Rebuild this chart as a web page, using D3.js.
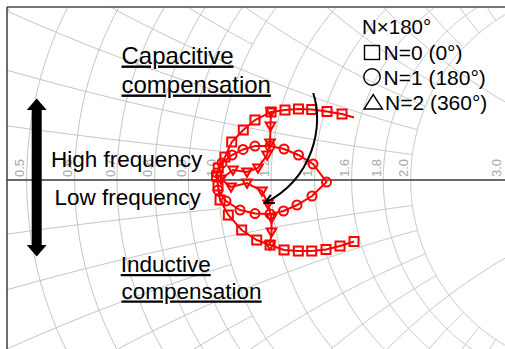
<!DOCTYPE html>
<html><head><meta charset="utf-8">
<script src="https://cdn.jsdelivr.net/npm/d3@7"></script>
<style>
html,body{margin:0;padding:0;background:#fff;}
svg{display:block;font-family:"Liberation Sans",Arial,sans-serif;}
</style>
</head><body>
<svg id="chart" width="505" height="349"></svg>
<script>
// ---------------- data (reflection coefficient, real / imaginary) ----------------
const seriesNames = ["N=0 (0°)", "N=1 (180°)", "N=2 (360°)"];
const legendTitle = "N×180°";

const n0Re = [0.2349,0.2106,0.1863,0.1615,0.1382,0.1134,0.0891,0.0660,0.0399,0.0167,0.0023,-0.0012,-0.0038,-0.0007,0.0109,0.0226,0.0427,0.0630,0.0908,0.1151,0.1385,0.1615,0.1880,0.2141,0.2349];
const n0Im = [-0.1068,-0.1146,-0.1207,-0.1233,-0.1233,-0.1215,-0.1128,-0.1042,-0.0868,-0.0608,-0.0347,-0.0104,0.0069,0.0208,0.0399,0.0660,0.0868,0.1042,0.1181,0.1215,0.1233,0.1224,0.1189,0.1146,0.1085];

const n1Re = [-0.0012,0.0127,0.0370,0.0630,0.0891,0.1125,0.1359,0.1620,0.1872,0.1637,0.1385,0.1134,0.0891,0.0630,0.0422,0.0231,0.0057,-0.0030];
const n1Im = [-0.0174,-0.0365,-0.0521,-0.0582,-0.0590,-0.0538,-0.0434,-0.0278,-0.0035,0.0278,0.0434,0.0538,0.0590,0.0590,0.0530,0.0434,0.0295,0.0122];

const n2Re = [0.0891,0.0917,0.0917,0.0856,0.0752,0.0491,0.0214,0.0040,0.0248,0.0491,0.0682,0.0839,0.0891,0.0899,0.0908];
const n2Im = [-0.1128,-0.0903,-0.0660,-0.0417,-0.0191,-0.0052,-0.0122,0.0017,0.0174,0.0139,0.0208,0.0434,0.0642,0.0937,0.1181];

// real-axis (resistance) tick labels
const rTickLabels = [0.5,0.6,0.7,0.8,0.9,1.0,1.2,1.4,1.6,1.8,2.0,3.0];
// Smith grid values (resistance and reactance) and banded grid steps
const gridValues = [0.1,0.2,0.3,0.4,0.5,0.6,0.7,0.8,0.9,1.0,1.2,1.4,1.6,1.8,2.0,3,4,5,10,20,50];
const gridBandEdges = [0,1,2,5,10,20,50];
const gridBandSteps = [0.1,0.2,1,5,10,50];

// curved arrow annotation (in reflection-coefficient units)
const arrowCtrl = [[0.164,0.151],[0.183,0.095],[0.165,0.003],[0.080,-0.040]];

// ---------------- drawing ----------------
const W = 505, H = 349;
const cx = 218.7, cy = 180, R = 576;
const frameLeft = 7, frameTop = 7;
const svg = d3.select("#chart");

const gx = d3.scaleLinear().domain([-1,1]).range([cx-R, cx+R]);
const gy = d3.scaleLinear().domain([-1,1]).range([cy+R, cy-R]);

function z2g(r, x){
  const den = (r+1)*(r+1) + x*x;
  return [(r*r - 1 + x*x)/den, 2*x/den];
}

const defs = svg.append("defs");
defs.append("clipPath").attr("id","clip")
  .append("rect").attr("x",frameLeft).attr("y",frameTop).attr("width",W-frameLeft+20).attr("height",H-frameTop+20);
defs.append("marker").attr("id","ah").attr("viewBox","0 0 12 12")
  .attr("refX",10).attr("refY",6).attr("markerWidth",12).attr("markerHeight",12)
  .attr("markerUnits","userSpaceOnUse").attr("orient","auto")
  .append("path").attr("d","M1,1.5 L10,6 L1,10.5").attr("fill","none")
  .attr("stroke","#000").attr("stroke-width",2).attr("stroke-linejoin","miter");

const plot = svg.append("g").attr("clip-path","url(#clip)");

// grid
const line = d3.line().x(d=>gx(d[0])).y(d=>gy(d[1]));
function bandOf(v){
  for(let i=0;i<gridBandSteps.length;i++) if(v <= gridBandEdges[i+1]+1e-9) return i;
  return gridBandSteps.length-1;
}
function isMult(v,s){ const q=v/s; return Math.abs(q-Math.round(q))<1e-6; }
const gridPaths = [];
gridValues.forEach(v=>{
  const bv = bandOf(v);
  gridBandSteps.forEach((s,k)=>{
    const lv = Math.max(bv,k);
    if(!isMult(v, gridBandSteps[lv])) return;
    const lo = gridBandEdges[k], hi = gridBandEdges[k+1];
    const ts = d3.range(0,161).map(i=>lo+(hi-lo)*i/160);
    gridPaths.push(ts.map(t=>z2g(v,t)));
    gridPaths.push(ts.map(t=>z2g(v,-t)));
    gridPaths.push(ts.map(t=>z2g(t,v)));
    gridPaths.push(ts.map(t=>z2g(t,-v)));
  });
});
plot.append("g").selectAll("path").data(gridPaths).join("path")
  .attr("d",line).attr("fill","none").attr("stroke","#c3c3c3").attr("stroke-width",1);

// real axis
plot.append("line").attr("x1",frameLeft).attr("x2",W+10).attr("y1",gy(0)).attr("y2",gy(0))
  .attr("stroke","#3a3a3a").attr("stroke-width",1.6);

// tick labels along the real axis
plot.append("g").selectAll("text").data(rTickLabels).join("text")
  .attr("transform",d=>`translate(${Math.min(gx(z2g(d,0)[0])-2.5, W-4)},${gy(0)-3}) rotate(-90)`)
  .attr("font-size",13).attr("fill","#a8a8a8").text(d=>d.toFixed(1));

// frame
svg.append("line").attr("x1",frameLeft).attr("x2",W).attr("y1",frameTop).attr("y2",frameTop)
  .attr("stroke","#4a4a4a").attr("stroke-width",1.6);
svg.append("line").attr("x1",frameLeft).attr("x2",frameLeft).attr("y1",frameTop).attr("y2",H)
  .attr("stroke","#4a4a4a").attr("stroke-width",1.6);

// text annotations
function addText(str, x, y, size, underline){
  const t = svg.append("text").attr("x",x).attr("y",y).attr("font-size",size).attr("fill","#000").text(str);
  if(underline) t.attr("text-decoration","underline");
  return t;
}
addText("Capacitive",121.5,63.5,24,true);
addText("compensation",121.5,92.5,24,true);
addText("Inductive",120.7,272,22.5,true);
addText("compensation",121.5,298.5,22.5,true);
addText("High frequency",51,167,22.5,false);
addText("Low frequency",54.5,205,22.5,false);

// thick double arrow
const ax = 36.7;
svg.append("path")
  .attr("d",`M${ax},98.5 L${ax+10},110 L${ax+5},110 L${ax+5},245 L${ax+10},245 L${ax},256.5 L${ax-10},245 L${ax-5},245 L${ax-5},110 L${ax-10},110 Z`)
  .attr("fill","#000");

// series
const series = [
  {re:n0Re, im:n0Im, shape:"square", skipLast:true},
  {re:n1Re, im:n1Im, shape:"circle", skipLast:false},
  {re:n2Re, im:n2Im, shape:"triangle", skipLast:false}
];
const red = "#ff0000";
const sg = plot.append("g");
series.forEach(s=>{
  const pts = s.re.map((v,i)=>[v, s.im[i]]);
  sg.append("path").attr("d",line(pts)).attr("fill","none").attr("stroke",red).attr("stroke-width",2);
});
series.forEach(s=>{
  const pts = s.re.map((v,i)=>[v, s.im[i]]);
  const mk = s.skipLast ? pts.slice(0,-1) : pts;
  const g = sg.append("g");
  mk.forEach(p=>{
    const px = gx(p[0]), py = gy(p[1]);
    if(s.shape==="square"){
      g.append("rect").attr("x",px-4.5).attr("y",py-4.5).attr("width",9).attr("height",9)
        .attr("fill","none").attr("stroke",red).attr("stroke-width",2);
    } else if(s.shape==="circle"){
      g.append("circle").attr("cx",px).attr("cy",py).attr("r",4.5)
        .attr("fill","none").attr("stroke",red).attr("stroke-width",2);
    } else {
      g.append("path").attr("d",`M${px-4.8},${py-3.5} L${px+4.8},${py-3.5} L${px},${py+4.8} Z`)
        .attr("fill","none").attr("stroke",red).attr("stroke-width",2).attr("stroke-linejoin","miter");
    }
  });
});

// curved arrow
const ap = d3.path();
const c = arrowCtrl.map(p=>[gx(p[0]),gy(p[1])]);
ap.moveTo(c[0][0],c[0][1]);
ap.bezierCurveTo(c[1][0],c[1][1],c[2][0],c[2][1],c[3][0],c[3][1]);
svg.append("path").attr("d",ap.toString()).attr("fill","none").attr("stroke","#000")
  .attr("stroke-width",2).attr("marker-end","url(#ah)");

// legend
const lg = svg.append("g");
lg.append("text").attr("x",362).attr("y",33.5).attr("font-size",20.5).text(legendTitle);
lg.append("rect").attr("x",364.5).attr("y",45.5).attr("width",15).attr("height",14)
  .attr("fill","none").attr("stroke","#000").attr("stroke-width",1.4);
lg.append("circle").attr("cx",372).attr("cy",77).attr("r",8.2)
  .attr("fill","none").attr("stroke","#000").attr("stroke-width",1.4);
lg.append("path").attr("d","M364,109 L382.5,109 L373.2,94.5 Z")
  .attr("fill","none").attr("stroke","#000").attr("stroke-width",1.4);
const legY = [59.5, 85, 109.5];
seriesNames.forEach((n,i)=>{
  lg.append("text").attr("x",i===2?385:383.5).attr("y",legY[i]).attr("font-size",21).text(n);
});
</script>
</body></html>
